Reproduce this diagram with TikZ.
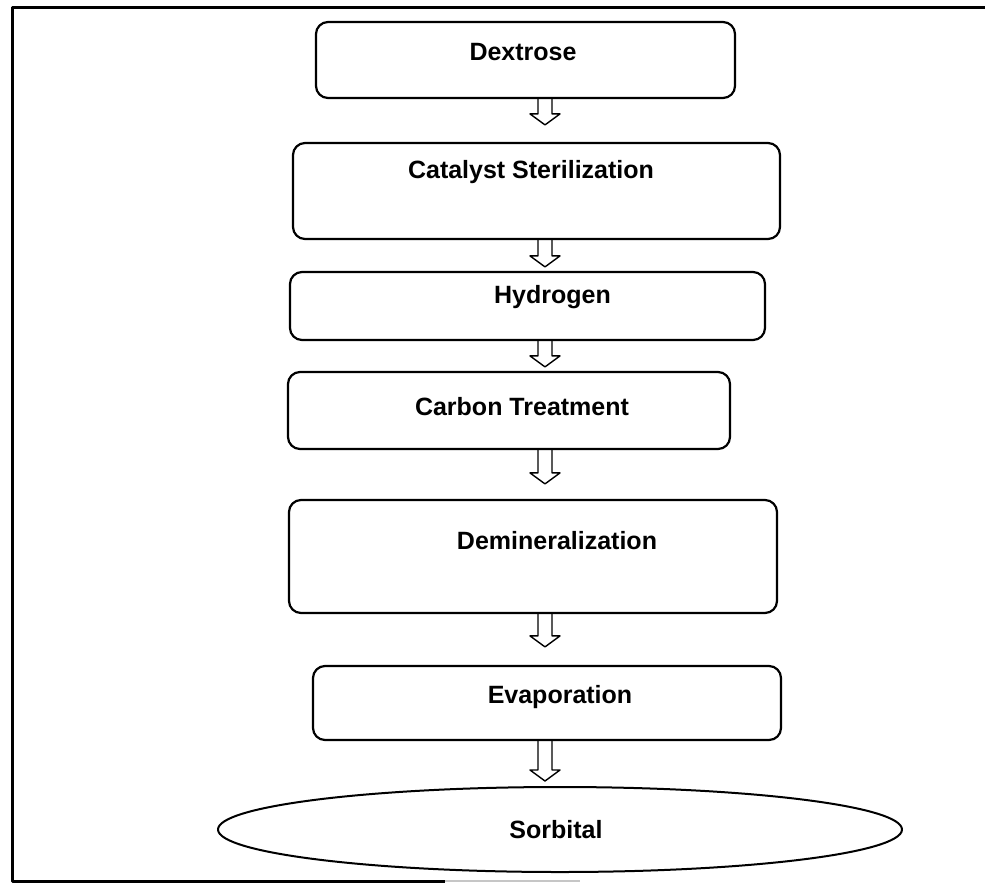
\documentclass[tikz,border=0pt]{standalone}
\usepackage{fontspec}
\setmainfont{Liberation Sans}
\usetikzlibrary{calc, shapes.geometric}

\begin{document}
\begin{tikzpicture}[x=1pt, y=-1pt, line join=round]
    \tikzstyle{stage} = [rectangle, rounded corners=12pt, draw=black, line width=2.2pt, inner sep=0pt]
    \tikzstyle{product} = [ellipse, draw=black, line width=2pt, inner sep=0pt]
    \tikzstyle{stagetext} = [font=\fontsize{25}{30}\selectfont\bfseries, inner sep=0pt]
    \tikzstyle{flow} = [draw=black, line width=1.4pt, to path={let \p1=(\tikztostart), \p2=(\tikztotarget) in
        (\x1-7pt,\y1) -- (\x1-7pt,\y2+11pt) -- (\x1-15pt,\y2+11pt) -- (\x2,\y2) -- (\x1+15pt,\y2+11pt) -- (\x1+7pt,\y2+11pt) -- (\x1+7pt,\y1)}]

    \useasboundingbox (0,0) rectangle (985,884);

    % outer frame (right side cut off)
    \draw[line width=3pt] (985,7) -- (12,7) -- (12,881) -- (445,881);
    \draw[line width=2pt, gray!45] (445,881) -- (580,881);

    % process stages
    \node (dextrose) [stage, minimum width=419pt, minimum height=76pt, label={[stagetext, xshift=-2.5pt, yshift=8pt]center:Dextrose}] at (525.5,60) {};
    \node (catalyst) [stage, minimum width=487pt, minimum height=96pt, label={[stagetext, xshift=-5.5pt, yshift=19pt]center:Catalyst Sterilization}] at (536.5,191) {};
    \node (hydrogen) [stage, minimum width=475pt, minimum height=68pt, label={[stagetext, xshift=25pt, yshift=9pt]center:Hydrogen}] at (527.5,306) {};
    \node (carbon) [stage, minimum width=442pt, minimum height=77pt, label={[stagetext, xshift=13pt, yshift=3.5pt]center:Carbon Treatment}] at (509,410.5) {};
    \node (demin) [stage, minimum width=488pt, minimum height=113pt, label={[stagetext, xshift=24pt, yshift=16pt]center:Demineralization}] at (533,556.5) {};
    \node (evap) [stage, minimum width=468pt, minimum height=74pt, label={[stagetext, xshift=13pt, yshift=6pt]center:Evaporation}] at (547,703) {};
    \node (sorbital) [product, minimum width=684pt, minimum height=85pt, label={[stagetext, xshift=-4pt]center:Sorbital}] at (560,829.5) {};

    % hollow block arrows
    \coordinate (col) at (545,0);
    \draw[flow] (dextrose.south -| col) to ([yshift=17pt]catalyst.north -| col);
    \draw[flow] (catalyst.south -| col) to ([yshift=4pt]hydrogen.north -| col);
    \draw[flow] (hydrogen.south -| col) to ([yshift=4pt]carbon.north -| col);
    \draw[flow] (carbon.south -| col) to ([yshift=15pt]demin.north -| col);
    \draw[flow] (demin.south -| col) to ([yshift=18pt]evap.north -| col);
    \draw[flow] (evap.south -| col) to ([yshift=5pt]sorbital.north -| col);
\end{tikzpicture}
\end{document}
